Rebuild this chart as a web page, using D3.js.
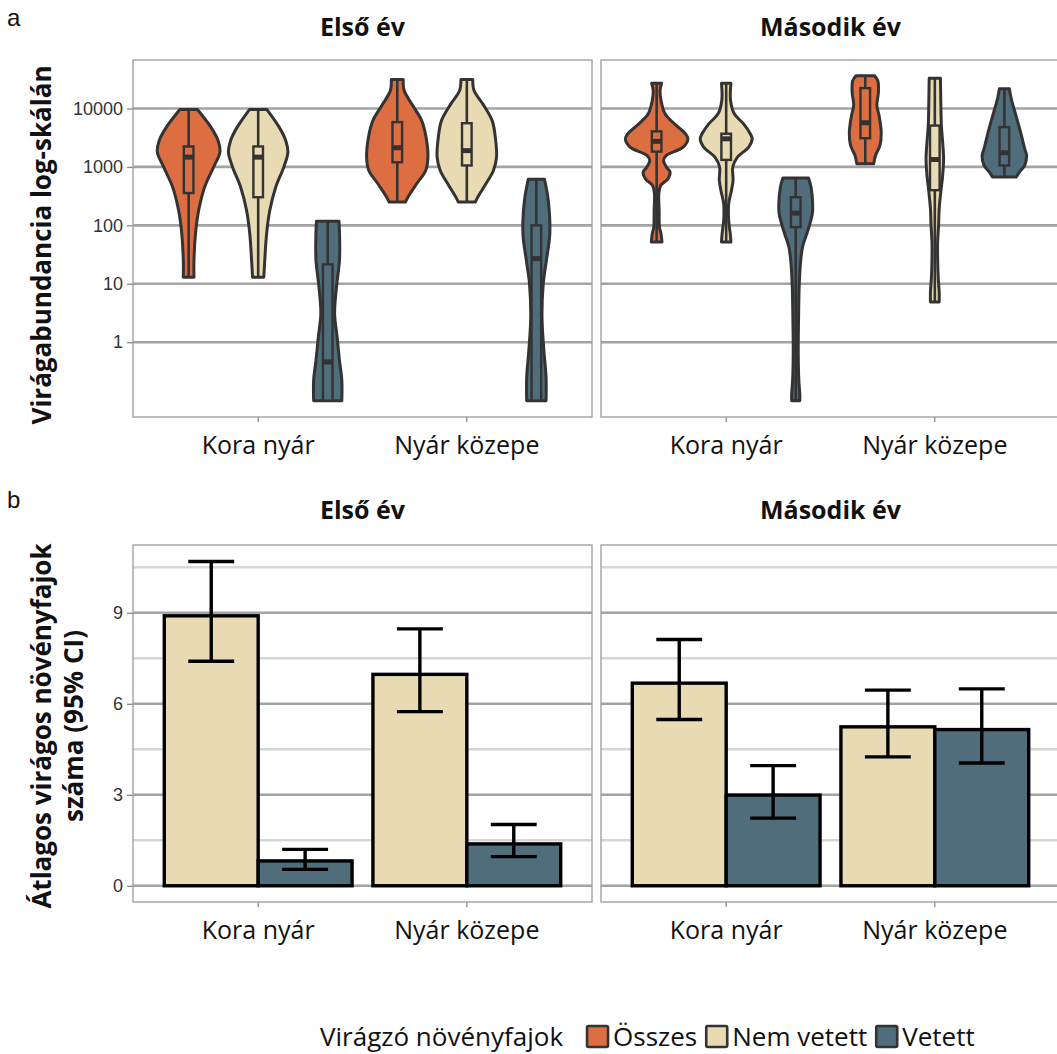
<!DOCTYPE html>
<html>
<head>
<meta charset="utf-8">
<script src="https://cdn.jsdelivr.net/npm/d3@7"></script>
<style>
  html, body { margin: 0; padding: 0; background: #fff; }
  svg { display: block; }
</style>
</head>
<body>
<svg id="chart" width="1057" height="1054"></svg>
<script>
// ---- categories ----
const years = ["Első év", "Második év"];
const seasons = ["Kora nyár", "Nyár közepe"];
const groups = ["Összes", "Nem vetett", "Vetett"];
const groupColors = ["#DD6E42", "#E8DAB2", "#4F6D7A"];
const legendTitle = "Virágzó növényfajok";

// ---- panel a: violin profiles, [abundance, relative density] ----
const elsoKoraOsszes = [[13, 0.17], [25, 0.17], [73, 0.22], [180, 0.32], [450, 0.51], [1000, 0.80], [1790, 1.0], [2840, 0.94], [4800, 0.71], [9600, 0.28]];
const elsoKoraNemVetett = [[13, 0.18], [25, 0.21], [73, 0.27], [180, 0.37], [450, 0.56], [1000, 0.82], [1790, 0.95], [2840, 0.88], [4800, 0.67], [9600, 0.28]];
const elsoKoraVetett = [[0.1, 0.45], [0.224, 0.45], [0.49, 0.375], [1.23, 0.30], [3.1, 0.22], [8.8, 0.28], [25, 0.375], [63, 0.38], [118, 0.36]];
const elsoNyarOsszes = [[250, 0.26], [304, 0.34], [515, 0.62], [870, 0.91], [1470, 0.98], [3230, 0.92], [6200, 0.78], [12000, 0.46], [20300, 0.22], [31500, 0.19]];
const elsoNyarNemVetett = [[250, 0.27], [304, 0.35], [515, 0.61], [870, 0.85], [1470, 0.95], [3230, 0.91], [6200, 0.81], [12000, 0.51], [20300, 0.23], [31500, 0.19]];
const elsoNyarVetett = [[0.1, 0.31], [0.25, 0.31], [0.73, 0.24], [2.7, 0.18], [10, 0.22], [25, 0.32], [73, 0.43], [268, 0.38], [615, 0.26]];
const masodikKoraOsszes = [[52, 0.17], [72, 0.14], [94, 0.09], [180, 0.08], [348, 0.07], [480, 0.13], [625, 0.36], [815, 0.43], [995, 0.31], [1290, 0.22], [1580, 0.31], [2180, 0.85], [3030, 1.0], [3700, 0.92], [5500, 0.56], [8100, 0.27], [13700, 0.14], [20300, 0.11], [27000, 0.16]];
const masodikKoraNemVetett = [[52, 0.15], [72, 0.13], [121, 0.08], [235, 0.08], [400, 0.17], [590, 0.22], [995, 0.21], [1470, 0.36], [2180, 0.72], [3030, 0.83], [3700, 0.77], [5500, 0.55], [8100, 0.26], [13700, 0.14], [27000, 0.15]];
const masodikKoraVetett = [[0.1, 0.13], [0.13, 0.13], [0.22, 0.10], [0.64, 0.08], [2.4, 0.09], [8.8, 0.11], [22, 0.15], [43, 0.22], [82, 0.39], [158, 0.53], [235, 0.54], [450, 0.49], [645, 0.41]];
const masodikNyarOsszes = [[1130, 0.27], [1580, 0.33], [2330, 0.47], [3900, 0.51], [7600, 0.44], [11300, 0.37], [19000, 0.42], [30000, 0.40], [36500, 0.29]];
const masodikNyarNemVetett = [[4.9, 0.14], [7.2, 0.14], [12.3, 0.11], [27, 0.09], [52, 0.09], [100, 0.12], [194, 0.14], [370, 0.19], [710, 0.25], [1380, 0.28], [2650, 0.25], [5100, 0.21], [14700, 0.19], [33000, 0.18]];
const masodikNyarVetett = [[670, 0.38], [815, 0.48], [1060, 0.65], [1580, 0.71], [2040, 0.65], [3900, 0.52], [7600, 0.37], [14700, 0.22], [21700, 0.16]];

// boxplot quartiles: [q1, median, q3]
const boxElsoKora = [[357, 1470, 2240], [303, 1470, 2240], [0.1, 0.46, 21.5]];
const boxElsoNyar = [[1200, 2130, 5850], [1060, 1900, 5600], [0.1, 27, 100]];
const boxMasodikKora = [[1830, 2740, 4060], [1320, 3030, 3700], [93, 162, 303]];
const boxMasodikNyar = [[3100, 5700, 22300], [400, 1340, 5100], [1060, 1750, 4800]];

const violinProfiles = [
  [[elsoKoraOsszes, elsoKoraNemVetett, elsoKoraVetett], [elsoNyarOsszes, elsoNyarNemVetett, elsoNyarVetett]],
  [[masodikKoraOsszes, masodikKoraNemVetett, masodikKoraVetett], [masodikNyarOsszes, masodikNyarNemVetett, masodikNyarVetett]]
];
const boxStats = [[boxElsoKora, boxElsoNyar], [boxMasodikKora, boxMasodikNyar]];

// ---- panel b: mean number of flowering species with 95% CI ----
const meanNemVetett = [[8.9, 6.97], [6.68, 5.24]];
const lowNemVetett = [[7.4, 5.74], [5.48, 4.25]];
const highNemVetett = [[10.69, 8.47], [8.12, 6.45]];
const meanVetett = [[0.82, 1.38], [2.99, 5.15]];
const lowVetett = [[0.54, 0.96], [2.23, 4.05]];
const highVetett = [[1.2, 2.02], [3.96, 6.49]];

const logTicks = [1, 10, 100, 1000, 10000];
const barMajorTicks = [0, 3, 6, 9];
const barMinorTicks = [1.5, 4.5, 7.5, 10.5];

// ---- layout ----
const svg = d3.select("#chart");
const panelX = [[133, 592], [601, 1060]];
const topRange = [417, 60];
const botRange = [902, 545];

const labelFont = "'Open Sans', 'Noto Sans', sans-serif";
const tickFont = "'Liberation Sans', Arial, sans-serif";
const outline = "#333333";
const gridMajor = "#a3a3a3";
const gridMinor = "#d6d6d6";

const yLog = d3.scaleLog().domain([Math.pow(10, -1.28), Math.pow(10, 4.83)]).range(topRange);
const yBar = d3.scaleLinear().domain([-0.535, 11.235]).range(botRange);
const xScales = panelX.map(r => d3.scaleLinear().domain([0.4, 2.6]).range(r));
const unit = (panelX[0][1] - panelX[0][0]) / 2.2;
const halfWidth = d3.scaleLinear().domain([0, 1]).range([0, 0.15 * unit]);

// panel letters
svg.append("text").attr("x", 7).attr("y", 26).attr("font-family", tickFont)
  .attr("font-size", 24).attr("fill", "#111").text("a");
svg.append("text").attr("x", 7).attr("y", 508).attr("font-family", tickFont)
  .attr("font-size", 24).attr("fill", "#111").text("b");

function panelFrame(g, xs, yRange, title, titleY) {
  const [x0, x1] = xs.range();
  g.append("text").attr("x", (x0 + x1) / 2).attr("y", titleY)
    .attr("text-anchor", "middle").attr("font-family", labelFont)
    .attr("font-weight", 700).attr("font-size", 25).attr("fill", "#111").text(title);
  // category ticks + labels
  seasons.forEach((s, i) => {
    const cx = xs(i + 1);
    g.append("line").attr("x1", cx).attr("x2", cx).attr("y1", yRange[0]).attr("y2", yRange[0] + 5)
      .attr("stroke", "#8a8a8a").attr("stroke-width", 1.3);
    g.append("text").attr("x", cx).attr("y", yRange[0] + 37)
      .attr("text-anchor", "middle").attr("font-family", labelFont)
      .attr("font-size", 25).attr("fill", "#111").text(s);
  });
}

function panelBorder(g, xs, yRange) {
  const [x0, x1] = xs.range();
  g.append("rect").attr("x", x0).attr("y", yRange[1]).attr("width", x1 - x0)
    .attr("height", yRange[0] - yRange[1]).attr("fill", "none")
    .attr("stroke", "#9a9a9a").attr("stroke-width", 1.3);
}

function styleAxis(ax) {
  ax.select(".domain").remove();
  ax.selectAll("line").attr("stroke", "#8a8a8a").attr("stroke-width", 1.3);
  ax.selectAll("text").attr("font-family", tickFont).attr("font-size", 18).attr("fill", "#333");
}

// ---- panel a: violins ----
years.forEach((yr, p) => {
  const xs = xScales[p];
  const g = svg.append("g");
  const [x0, x1] = xs.range();
  logTicks.forEach(t => {
    g.append("line").attr("x1", x0).attr("x2", x1).attr("y1", yLog(t)).attr("y2", yLog(t))
      .attr("stroke", gridMajor).attr("stroke-width", 2.6);
  });
  if (p === 0) {
    g.append("g").attr("transform", `translate(${x0},0)`)
      .call(d3.axisLeft(yLog).tickValues(logTicks).tickFormat(d3.format("d")).tickSize(6).tickPadding(4))
      .call(styleAxis);
  }
  panelFrame(g, xs, topRange, yr, 36);

  seasons.forEach((s, i) => {
    groups.forEach((grp, k) => {
      const cx = xs(i + 1 + (k - 1) / 3);
      const prof = violinProfiles[p][i][k];
      const area = d3.area()
        .y(d => yLog(d[0]))
        .x0(d => cx - halfWidth(d[1]))
        .x1(d => cx + halfWidth(d[1]))
        .curve(d3.curveCatmullRom.alpha(0.5));
      g.append("path").datum(prof).attr("d", area)
        .attr("fill", groupColors[k]).attr("stroke", outline)
        .attr("stroke-width", 3).attr("stroke-linejoin", "round");
      // whisker
      const lo = prof[0][0], hi = prof[prof.length - 1][0];
      g.append("line").attr("x1", cx).attr("x2", cx).attr("y1", yLog(lo)).attr("y2", yLog(hi))
        .attr("stroke", outline).attr("stroke-width", 2.6);
      // box
      const [q1, med, q3] = boxStats[p][i][k];
      const bw = 0.046 * unit;
      g.append("rect").attr("x", cx - bw / 2).attr("y", yLog(q3))
        .attr("width", bw).attr("height", yLog(q1) - yLog(q3))
        .attr("fill", groupColors[k]).attr("stroke", outline).attr("stroke-width", 2.4);
      g.append("line").attr("x1", cx - bw / 2).attr("x2", cx + bw / 2)
        .attr("y1", yLog(med)).attr("y2", yLog(med))
        .attr("stroke", outline).attr("stroke-width", 5);
    });
  });
  panelBorder(g, xs, topRange);
});

// ---- panel b: bars with CI ----
years.forEach((yr, p) => {
  const xs = xScales[p];
  const g = svg.append("g");
  const [x0, x1] = xs.range();
  barMinorTicks.forEach(t => {
    g.append("line").attr("x1", x0).attr("x2", x1).attr("y1", yBar(t)).attr("y2", yBar(t))
      .attr("stroke", gridMinor).attr("stroke-width", 2.4);
  });
  barMajorTicks.forEach(t => {
    g.append("line").attr("x1", x0).attr("x2", x1).attr("y1", yBar(t)).attr("y2", yBar(t))
      .attr("stroke", gridMajor).attr("stroke-width", 2.6);
  });
  if (p === 0) {
    g.append("g").attr("transform", `translate(${x0},0)`)
      .call(d3.axisLeft(yBar).tickValues(barMajorTicks).tickSize(6).tickPadding(4))
      .call(styleAxis);
  }
  panelFrame(g, xs, botRange, yr, 519);

  const series = [
    { color: groupColors[1], mean: meanNemVetett, low: lowNemVetett, high: highNemVetett, off: -0.225 },
    { color: groupColors[2], mean: meanVetett, low: lowVetett, high: highVetett, off: 0.225 }
  ];
  seasons.forEach((s, i) => {
    series.forEach(sr => {
      const c = i + 1 + sr.off;
      const v = sr.mean[p][i];
      g.append("rect").attr("x", xs(c - 0.225)).attr("y", yBar(v))
        .attr("width", xs(c + 0.225) - xs(c - 0.225)).attr("height", yBar(0) - yBar(v))
        .attr("fill", sr.color).attr("stroke", "#000").attr("stroke-width", 3.4);
    });
    series.forEach(sr => {
      const c = i + 1 + sr.off;
      const lo = sr.low[p][i], hi = sr.high[p][i];
      const e = g.append("g").attr("stroke", "#000").attr("stroke-width", 3.4);
      e.append("line").attr("x1", xs(c)).attr("x2", xs(c)).attr("y1", yBar(lo)).attr("y2", yBar(hi));
      [lo, hi].forEach(val => {
        e.append("line").attr("x1", xs(c - 0.11)).attr("x2", xs(c + 0.11))
          .attr("y1", yBar(val)).attr("y2", yBar(val));
      });
    });
  });
  panelBorder(g, xs, botRange);
});

// ---- axis titles ----
function yTitle(x, y, txt) {
  svg.append("text").attr("transform", `translate(${x},${y}) rotate(-90)`)
    .attr("text-anchor", "middle").attr("font-family", labelFont)
    .attr("font-weight", 700).attr("font-size", 26).attr("fill", "#111").text(txt);
}
yTitle(51, 245, "Virágabundancia log-skálán");
yTitle(51, 726, "Átlagos virágos növényfajok");
yTitle(83, 726, "száma (95% CI)");

// ---- legend ----
const legend = svg.append("g").attr("font-family", labelFont).attr("font-size", 26).attr("fill", "#111");
let lx = 320;
const ly = 1046;
const lt = legend.append("text").attr("x", lx).attr("y", ly).text(legendTitle);
lx += lt.node().getComputedTextLength() + 24;
groups.forEach((grp, k) => {
  legend.append("rect").attr("x", lx).attr("y", ly - 20).attr("width", 21).attr("height", 21)
    .attr("fill", groupColors[k]).attr("stroke", outline).attr("stroke-width", 2.6).attr("rx", 1.5);
  const t = legend.append("text").attr("x", lx + 26).attr("y", ly).text(grp);
  lx += 26 + t.node().getComputedTextLength() + 9;
});
</script>
</body>
</html>
